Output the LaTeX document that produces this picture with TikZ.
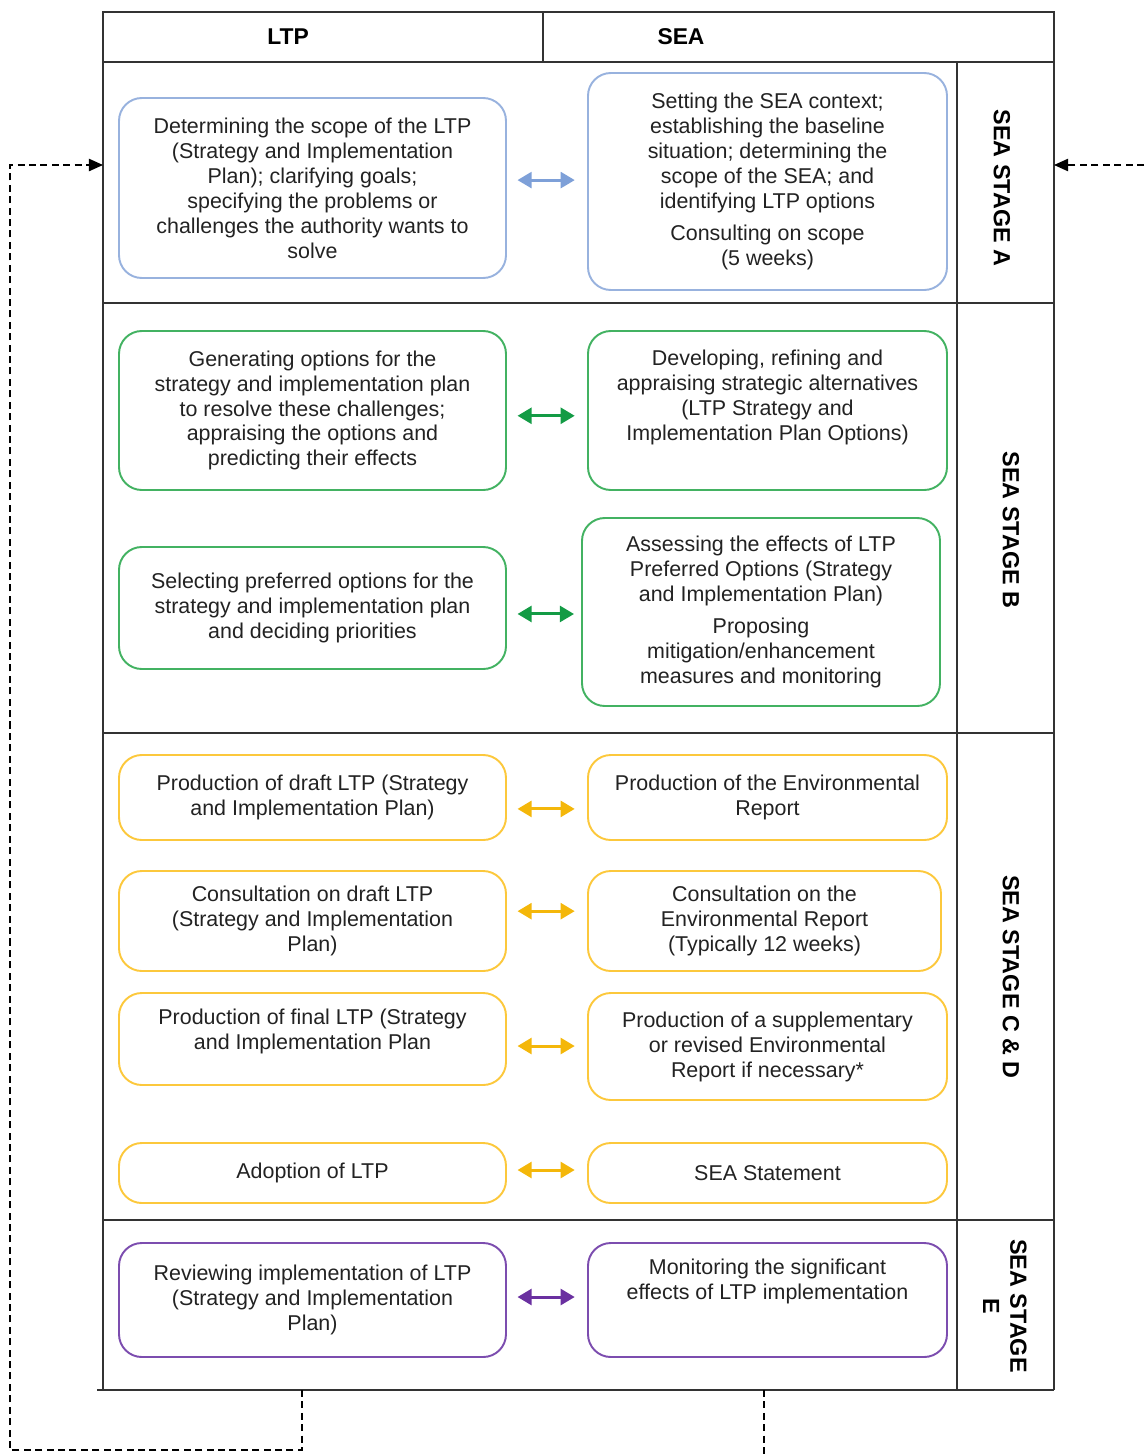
\documentclass[tikz,border=0pt]{standalone}
\usepackage{fontspec}
\setmainfont{Liberation Sans}
\usetikzlibrary{arrows.meta, positioning, calc}
\definecolor{scopeblue}{HTML}{98B2DE}
\definecolor{scopearrow}{HTML}{7EA0D8}
\definecolor{optiongreen}{HTML}{43B262}
\definecolor{optionarrow}{HTML}{139B45}
\definecolor{reportyellow}{HTML}{FCC83C}
\definecolor{reportarrow}{HTML}{F4B70A}
\definecolor{reviewpurple}{HTML}{7C4DAF}
\definecolor{reviewarrow}{HTML}{6A30A0}
\definecolor{framegrey}{HTML}{333333}
\definecolor{boxtext}{HTML}{222222}

\begin{document}
\begin{tikzpicture}[x=0.02cm, y=-0.02cm,
  boxfont/.style={align=center, inner sep=0pt, text=boxtext, font=\fontsize{12.2}{14.2}\selectfont},
  planbox/.style={draw, rounded corners=13pt, line width=1.1pt, boxfont},
  linkarrow/.style={{Triangle[length=8pt,width=9pt]}-{Triangle[length=8pt,width=9pt]},
    line width=1.7pt, shorten <=6pt, shorten >=7pt},
  framerule/.style={framegrey, line width=1pt},
  loopline/.style={dash pattern=on 4pt off 2.5pt, line width=0.8pt},
  feedback/.style={loopline, -{Triangle[length=8pt,width=7pt]}},
  headlabel/.style={font=\fontsize{13}{15}\selectfont\bfseries},
  stagelabel/.style={font=\fontsize{13.3}{15.5}\selectfont\bfseries, rotate=-90, align=center}]
  \def\px{0.02cm}
  \useasboundingbox (0,0) rectangle (1144,1454);

  % Table frame
  \draw[framerule] (103,12) rectangle (1054,62);
  \draw[framerule] (543,12) -- (543,62);
  \draw[framerule] (103,62) -- (103,1390);
  \draw[framerule] (957,62) -- (957,1390);
  \draw[framerule] (1054,62) -- (1054,1390);
  \draw[framerule] (103,303) -- (1054,303);
  \draw[framerule] (103,733) -- (1054,733);
  \draw[framerule] (103,1220) -- (1054,1220);
  \draw[framerule] (97,1390) -- (1054,1390);

  % Column headers
  \node[headlabel] (ltphead) at (288,37) {LTP};
  \node[headlabel] (seahead) at (681,37) {SEA};

  % Stage labels
  \node[stagelabel] (stageA) at (1002,188) {SEA STAGE A};
  \node[stagelabel] (stageB) at (1011,530) {SEA STAGE B};
  \node[stagelabel] (stageCD) at (1011,977) {SEA STAGE C \& D};
  \node[stagelabel] (stageE) at (1005,1306) {SEA STAGE\\E};

  % Stage A: scoping
  \node[planbox, draw=scopeblue, minimum width=387*\px, minimum height=180*\px] (scopeltp) at (312.5,188)
    {Determining the scope of the LTP\\(Strategy and Implementation\\Plan); clarifying goals;\\specifying the problems or\\challenges the authority wants to\\solve};
  \node[planbox, draw=scopeblue, minimum width=359*\px, minimum height=217*\px] (scopesea) at (767.5,181.5)
    {Setting the SEA context;\\establishing the baseline\\situation; determining the\\scope of the SEA; and\\identifying LTP options\\[4.5pt]Consulting on scope\\(5 weeks)};

  % Stage B: options
  \node[planbox, draw=optiongreen, minimum width=387*\px, minimum height=159*\px] (genltp) at (312.5,410.5)
    {Generating options for the\\strategy and implementation plan\\to resolve these challenges;\\appraising the options and\\predicting their effects};
  \node[planbox, draw=optiongreen, minimum width=359*\px, minimum height=159*\px] (gensea) at (767.5,410.5) {};
  \node[boxfont, below=20*\px of gensea.north] (genseatext)
    {Developing, refining and\\appraising strategic alternatives\\(LTP Strategy and\\Implementation Plan Options)};
  \node[planbox, draw=optiongreen, minimum width=387*\px, minimum height=122*\px] (prefltp) at (312.5,608)
    {Selecting preferred options for the\\strategy and implementation plan\\and deciding priorities};
  \node[planbox, draw=optiongreen, minimum width=358*\px, minimum height=188*\px] (prefsea) at (761,612)
    {Assessing the effects of LTP\\Preferred Options (Strategy\\and Implementation Plan)\\[4.5pt]Proposing\\mitigation/enhancement\\measures and monitoring};

  % Stage C & D: reports
  \node[planbox, draw=reportyellow, minimum width=387*\px, minimum height=85*\px] (draftltp) at (312.5,797.5)
    {Production of draft LTP (Strategy\\and Implementation Plan)};
  \node[planbox, draw=reportyellow, minimum width=359*\px, minimum height=85*\px] (draftsea) at (767.5,797.5)
    {Production of the Environmental\\Report};
  \node[planbox, draw=reportyellow, minimum width=387*\px, minimum height=100*\px] (consltp) at (312.5,921)
    {Consultation on draft LTP\\(Strategy and Implementation\\Plan)};
  \node[planbox, draw=reportyellow, minimum width=353*\px, minimum height=100*\px] (conssea) at (764.5,921)
    {Consultation on the\\Environmental Report\\(Typically 12 weeks)};
  \node[planbox, draw=reportyellow, minimum width=387*\px, minimum height=92*\px] (finalltp) at (312.5,1039) {};
  \node[boxfont, below=17*\px of finalltp.north] (finalltptext)
    {Production of final LTP (Strategy\\and Implementation Plan};
  \node[planbox, draw=reportyellow, minimum width=359*\px, minimum height=107*\px] (finalsea) at (767.5,1046.5)
    {Production of a supplementary\\or revised Environmental\\Report if necessary*};
  \node[planbox, draw=reportyellow, minimum width=387*\px, minimum height=60*\px] (adoptltp) at (312.5,1173)
    {Adoption of LTP};
  \node[planbox, draw=reportyellow, minimum width=359*\px, minimum height=60*\px] (adoptsea) at (767.5,1173)
    {SEA Statement};

  % Stage E: monitoring
  \node[planbox, draw=reviewpurple, minimum width=387*\px, minimum height=114*\px] (reviewltp) at (312.5,1300)
    {Reviewing implementation of LTP\\(Strategy and Implementation\\Plan)};
  \node[planbox, draw=reviewpurple, minimum width=359*\px, minimum height=114*\px] (reviewsea) at (767.5,1300) {};
  \node[boxfont, below=17*\px of reviewsea.north] (reviewseatext)
    {Monitoring the significant\\effects of LTP implementation};

  % Links between LTP and SEA
  \draw[linkarrow, scopearrow] ([yshift=4.5pt]scopeltp.east) -- ([yshift=4.5pt]scopeltp.east -| scopesea.west);
  \draw[linkarrow, optionarrow] ([yshift=-3pt]genltp.east) -- ([yshift=-3pt]genltp.east -| gensea.west);
  \draw[linkarrow, optionarrow, shorten >=4pt] ([yshift=-3.4pt]prefltp.east) -- ([yshift=-3.4pt]prefltp.east -| prefsea.west);
  \draw[linkarrow, reportarrow] ([yshift=-6.5pt]draftltp.east) -- ([yshift=-6.5pt]draftltp.east -| draftsea.west);
  \draw[linkarrow, reportarrow] ([yshift=5.6pt]consltp.east) -- ([yshift=5.6pt]consltp.east -| conssea.west);
  \draw[linkarrow, reportarrow] ([yshift=-4pt]finalltp.east) -- ([yshift=-4pt]finalltp.east -| finalsea.west);
  \draw[linkarrow, reportarrow] ([yshift=1.7pt]adoptltp.east) -- ([yshift=1.7pt]adoptltp.east -| adoptsea.west);
  \draw[linkarrow, reviewarrow] ([yshift=1.7pt]reviewltp.east) -- ([yshift=1.7pt]reviewltp.east -| reviewsea.west);

  % Feedback loops
  \coordinate (ltpout) at (302,1390);
  \coordinate (seaout) at (764,1390);
  \coordinate (seaend) at (764,1454);
  \coordinate (framewest) at (103,165);
  \coordinate (frameeast) at (1054,165);
  \coordinate (rightin) at (1144,165);
  \draw[feedback] (ltpout) |- (10,1450) |- (framewest);
  \draw[loopline] (seaout) -- (seaend);
  \draw[feedback] (rightin) -- (frameeast);
\end{tikzpicture}
\end{document}
